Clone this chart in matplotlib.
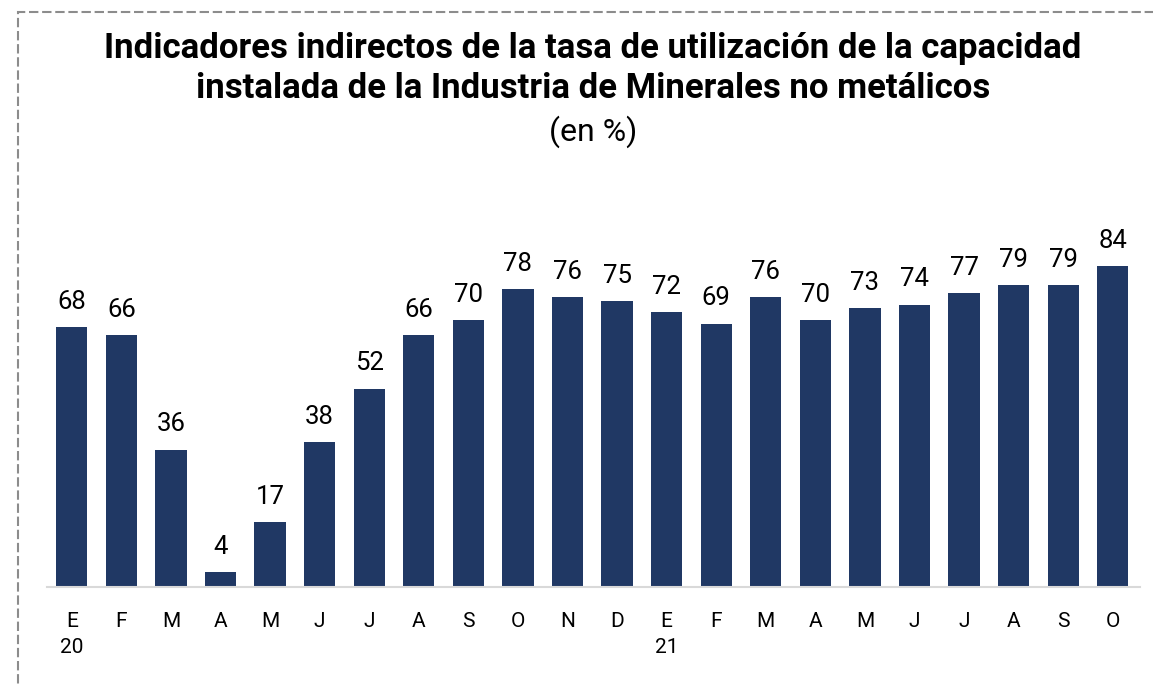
import numpy as np
import matplotlib.pyplot as plt
from matplotlib.patches import Rectangle

plt.rcParams['font.family'] = ['Roboto', 'DejaVu Sans']

months = ['E\n20', 'F', 'M', 'A', 'M', 'J', 'J', 'A', 'S', 'O', 'N', 'D',
          'E\n21', 'F', 'M', 'A', 'M', 'J', 'J', 'A', 'S', 'O']
values = [68, 66, 36, 4, 17, 38, 52, 66, 70, 78, 76, 75,
          72, 69, 76, 70, 73, 74, 77, 79, 79, 84]

W, H = 1153, 687
fig = plt.figure(figsize=(W / 100, H / 100), dpi=100)
ax = fig.add_axes([47 / W, 1 - 587 / H, (1140 - 47) / W, 0.5])

x = np.arange(len(values))
ax.bar(x, values, width=0.63, color='#203864')
for xi, v in zip(x, values):
    ax.annotate(str(v), (xi, v), xytext=(0, 9.5), textcoords='offset points',
                ha='center', va='bottom', fontsize=18.5)

ax.set_xlim(-0.5, len(values) - 0.45)
ax.set_ylim(0, 90)
ax.set_xticks(x)
ax.set_xticklabels(months, fontsize=15, linespacing=1.47, va='top')
ax.tick_params(axis='x', length=0, pad=18)
ax.set_yticks([])
for s in ['top', 'right', 'left']:
    ax.spines[s].set_visible(False)
ax.spines['bottom'].set_color('#d9d9d9')
ax.spines['bottom'].set_linewidth(1.5)

# title lines placed by baseline
fig.text(0.514, 1 - 58 / H, 'Indicadores indirectos de la tasa de utilización de la capacidad',
         ha='center', va='baseline', fontsize=25, fontweight='bold')
fig.text(0.514, 1 - 98 / H, 'instalada de la Industria de Minerales no metálicos',
         ha='center', va='baseline', fontsize=25, fontweight='bold')
fig.text(0.514, 1 - 141 / H, '(en %)', ha='center', va='baseline', fontsize=23)

border = Rectangle((18 / W, -0.1), 1.2, 1 - 12 / H + 0.1, transform=fig.transFigure,
                   fill=False, edgecolor='#8c8c8c', linestyle=(0, (4.5, 1.8)), linewidth=1.5)
fig.add_artist(border)

fig.savefig('out.png', dpi=100)
